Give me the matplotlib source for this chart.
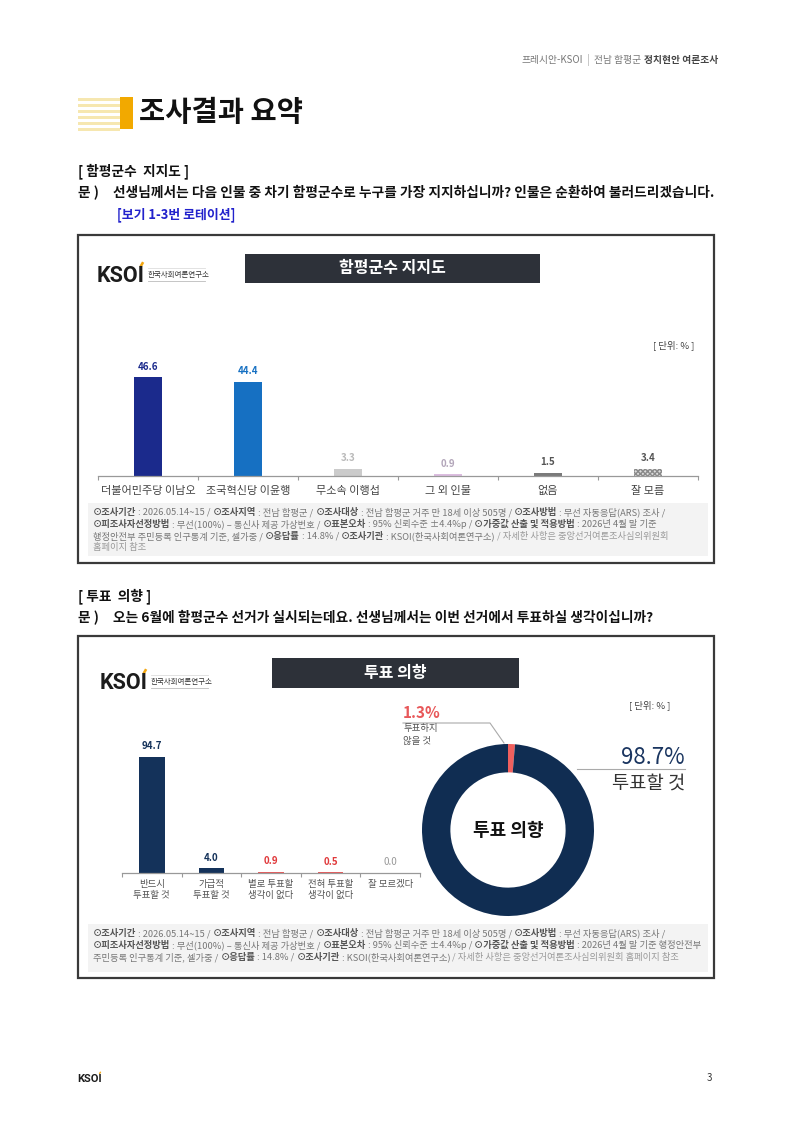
import matplotlib.pyplot as plt
import matplotlib.patches as mp

plt.rcParams['font.family'] = ['Noto Sans CJK KR', 'DejaVu Sans']

# data
sup_cats = ['더불어민주당 이남오', '조국혁신당 이윤행', '무소속 이행섭', '그 외 인물', '없음', '잘 모름']
sup_vals = [46.6, 44.4, 3.3, 0.9, 1.5, 3.4]
sup_colors = ['#1b2a8c', '#1670c2', '#cbcbcb', '#dcbde0', '#7a7a7a', '#dddddd']
sup_lab_colors = ['#1b2a8c', '#1670c2', '#b9b9b9', '#b3a6ba', '#555555', '#555555']

vote_cats = ['반드시\n투표할 것', '가급적\n투표할 것', '별로 투표할\n생각이 없다', '전혀 투표할\n생각이 없다', '잘 모르겠다']
vote_vals = [94.7, 4.0, 0.9, 0.5, 0.0]
vote_colors = ['#14325a', '#14325a', '#e8585a', '#e8585a', '#14325a']
vote_lab_colors = ['#14325a', '#14325a', '#e0393b', '#e0393b', '#999999']

donut_labels = ['투표하지\n않을 것', '투표할 것']
donut_vals = [1.3, 98.7]
donut_colors = ['#f0605e', '#102d52']

W, H = 793, 1121
fig = plt.figure(figsize=(W / 100, H / 100), dpi=100)
bg = fig.add_axes([0, 0, 1, 1])
bg.set_xlim(0, W)
bg.set_ylim(H, 0)
bg.axis('off')
rend = fig.canvas.get_renderer()


def px_axes(x0, y0, x1, y1):
    return fig.add_axes([x0 / W, 1 - y1 / H, (x1 - x0) / W, (y1 - y0) / H])


def seg_text(x, y, parts, size):
    # parts: (text, weight, color), drawn one after another
    ts = []
    for s, w, c in parts:
        t = bg.text(x, y, s, fontsize=size, fontweight=w, color=c, va='center', ha='left')
        x += t.get_window_extent(rend).width
        ts.append(t)
    return x, ts


def logo(x, y, size, sub=True):
    t = bg.text(x, y, 'KSOI', fontsize=size, fontweight='bold', color='#1c1c1c',
                va='baseline', family='Roboto')
    w = t.get_window_extent(rend).width
    cap = size * 100 / 72 * 0.71
    bg.plot([x + w - size * 0.28, x + w - size * 0.12], [y - cap * 1.02, y - cap * 1.3],
            color='#f3a712', lw=size * 0.12, solid_capstyle='butt')
    if sub:
        sx = x + w + 3
        bg.text(sx, y - cap * 0.48, '한국사회여론연구소', fontsize=size * 0.35,
                color='#333333', va='center', ha='left')
        bg.plot([sx, sx + size * 3.7], [y - cap * 0.05, y - cap * 0.05], color='#bbbbbb', lw=0.6)
        bg.plot([sx, sx + size * 3.7], [y - cap * 0.9, y - cap * 0.9], color='#dddddd', lw=0.6)


# header (right aligned at x=718)
hdr_parts = [('프레시안-KSOI', 'normal', '#777777'), ('  |  ', 'normal', '#aaaaaa'),
             ('전남 함평군 ', 'normal', '#777777'), ('정치현안 여론조사', 'bold', '#444444')]
end, hts = seg_text(0, 60, hdr_parts, 7)
for t in hts:
    t.set_x(t.get_position()[0] + 718 - end)

# title
for i in range(6):
    bg.add_patch(mp.Rectangle((78, 98 + i * 6), 42, 3.2, color='#f6e7b0', lw=0))
bg.add_patch(mp.Rectangle((120, 97), 13, 32, color='#f2a900', lw=0))
bg.text(139, 113, '조사결과 요약', fontsize=20.5, fontweight='bold', color='#111111', va='center')

QS = 9.85
# section 1 texts
bg.text(78, 171, '[ 함평군수  지지도 ]', fontsize=QS, fontweight='bold', color='#111111', va='center')
bg.text(78, 193, '문 )', fontsize=QS, fontweight='bold', color='#111111', va='center')
bg.text(113, 193, '선생님께서는 다음 인물 중 차기 함평군수로 누구를 가장 지지하십니까? 인물은 순환하여 불러드리겠습니다.',
        fontsize=QS, fontweight='bold', color='#111111', va='center')
bg.text(117, 215, '[보기 1-3번 로테이션]', fontsize=9.3, fontweight='bold', color='#2222cc', va='center')


def chart_frame(y0, y1, title, tx0, tx1, ty0, ty1, lx, ly):
    bg.add_patch(mp.Rectangle((78, y0), 636, y1 - y0, fill=False, ec='#3a3a3a', lw=1.6))
    bg.add_patch(mp.Rectangle((tx0, ty0), tx1 - tx0, ty1 - ty0, color='#2d3139', lw=0))
    bg.text((tx0 + tx1) / 2, (ty0 + ty1) / 2, title, fontsize=11.5, fontweight='bold',
            color='white', ha='center', va='center')
    logo(lx, ly, 15.5)


def footnote(y0, y1, lines):
    bg.add_patch(mp.Rectangle((88, y0), 620, y1 - y0, color='#f3f3f3', lw=0))
    for k, parts in enumerate(lines):
        seg_text(93, y0 + 9.5 + k * 11.8, parts, 6.7)


B, N = 'bold', 'normal'
c1, c2, c3 = '#555555', '#777777', '#9a9a9a'
line_a = [('⊙조사기간', B, c1), (' : 2026.05.14~15 / ', N, c2), ('⊙조사지역', B, c1), (' : 전남 함평군 / ', N, c2),
          ('⊙조사대상', B, c1), (' : 전남 함평군 거주 만 18세 이상 505명 / ', N, c2), ('⊙조사방법', B, c1),
          (' : 무선 자동응답(ARS) 조사 /', N, c2)]

# chart 1
chart_frame(235, 563, '함평군수 지지도', 245, 540, 254, 283, 97, 282)
bg.text(694, 345, '[ 단위: % ]', fontsize=6.8, color='#444444', ha='right', va='center')
ax1 = px_axes(98, 330, 698, 476)
x1 = list(range(len(sup_cats)))
bars = ax1.bar(x1, sup_vals, width=0.28, color=sup_colors, lw=0)
bars[5].set_hatch('xxxxxxx')
bars[5].set_edgecolor('#8a8a8a')
for i, v in enumerate(sup_vals):
    ax1.annotate(f'{v:.1f}', (i, v), xytext=(0, 4), textcoords='offset points', ha='center',
                 va='bottom', fontsize=7, fontweight='bold', color=sup_lab_colors[i])
ax1.set_xlim(-0.5, len(sup_cats) - 0.5)
ax1.set_ylim(0, 68.9)
for s in ['top', 'right', 'left']:
    ax1.spines[s].set_visible(False)
ax1.spines['bottom'].set_color('#999999')
ax1.spines['bottom'].set_linewidth(0.9)
ax1.set_yticks([])
ax1.set_xticks(x1, sup_cats, fontsize=8, color='#444444')
ax1.tick_params(axis='x', length=0, pad=7, colors='#444444')
ax1.set_xticks([i - 0.5 for i in range(len(sup_cats) + 1)], minor=True)
ax1.tick_params(axis='x', which='minor', length=3, color='#999999', width=0.8)
ax1.patch.set_alpha(0)

footnote(503, 556, [
    line_a,
    [('⊙피조사자선정방법', B, c1), (' : 무선(100%) – 통신사 제공 가상번호 / ', N, c2), ('⊙표본오차', B, c1),
     (' : 95% 신뢰수준 ±4.4%p / ', N, c2), ('⊙가중값 산출 및 적용방법', B, c1), (' : 2026년 4월 말 기준', N, c2)],
    [('행정안전부 주민등록 인구통계 기준, 셀가중 / ', N, c2), ('⊙응답률', B, c1), (' : 14.8% / ', N, c2),
     ('⊙조사기관', B, c1), (' : KSOI(한국사회여론연구소) ', N, c2), ('/ 자세한 사항은 중앙선거여론조사심의위원회', N, c3)],
    [('홈페이지 참조', N, c3)],
])

# section 2 texts
bg.text(78, 596, '[ 투표  의향 ]', fontsize=QS, fontweight='bold', color='#111111', va='center')
bg.text(78, 618, '문 )', fontsize=QS, fontweight='bold', color='#111111', va='center')
bg.text(113, 618, '오는 6월에 함평군수 선거가 실시되는데요. 선생님께서는 이번 선거에서 투표하실 생각이십니까?',
        fontsize=QS, fontweight='bold', color='#111111', va='center')

# chart 2
chart_frame(636, 978, '투표 의향', 272, 519, 658, 688, 100, 689)
bg.text(670, 705, '[ 단위: % ]', fontsize=6.8, color='#444444', ha='right', va='center')
ax2 = px_axes(122, 740, 420, 873)
x2 = list(range(len(vote_cats)))
ax2.bar(x2, vote_vals, width=0.43, color=vote_colors, lw=0)
for i, v in enumerate(vote_vals):
    ax2.annotate(f'{v:.1f}', (i, v), xytext=(0, 4), textcoords='offset points', ha='center',
                 va='bottom', fontsize=7, fontweight='bold' if i < 4 else 'normal',
                 color=vote_lab_colors[i])
ax2.set_xlim(-0.5, len(vote_cats) - 0.5)
ax2.set_ylim(0, 108.6)
for s in ['top', 'right', 'left']:
    ax2.spines[s].set_visible(False)
ax2.spines['bottom'].set_color('#999999')
ax2.spines['bottom'].set_linewidth(0.9)
ax2.set_yticks([])
ax2.set_xticks(x2, vote_cats, fontsize=6.8, color='#555555', linespacing=1.3)
ax2.tick_params(axis='x', length=0, pad=5)
ax2.set_xticks([i - 0.5 for i in range(len(vote_cats) + 1)], minor=True)
ax2.tick_params(axis='x', which='minor', length=3, color='#999999', width=0.8)
ax2.patch.set_alpha(0)

# donut
ax3 = px_axes(422, 744, 594, 916)
ax3.pie(donut_vals, colors=donut_colors, startangle=90, counterclock=False,
        wedgeprops=dict(width=0.33, lw=0))
ax3.set_xlim(-1, 1)
ax3.set_ylim(-1, 1)
ax3.text(0, 0, '투표 의향', fontsize=13, fontweight='bold', color='#111111', ha='center', va='center')

bg.text(403, 713, f'{donut_vals[0]}%', fontsize=11, fontweight='bold', color='#e8585a', va='center')
bg.text(403, 735, donut_labels[0], fontsize=6.8, color='#555555', va='center', linespacing=1.6)
bg.plot([403, 490, 504], [723, 723, 743], color='#aaaaaa', lw=0.8)
bg.text(685, 757, f'{donut_vals[1]}%', fontsize=16, fontweight='medium', color='#1a3560', ha='right', va='center')
bg.text(685, 783, donut_labels[1], fontsize=13.5, color='#333333', ha='right', va='center')
bg.plot([577, 685], [769, 769], color='#aaaaaa', lw=0.8)

footnote(924, 972, [
    line_a,
    [('⊙피조사자선정방법', B, c1), (' : 무선(100%) – 통신사 제공 가상번호 / ', N, c2), ('⊙표본오차', B, c1),
     (' : 95% 신뢰수준 ±4.4%p / ', N, c2), ('⊙가중값 산출 및 적용방법', B, c1),
     (' : 2026년 4월 말 기준 행정안전부', N, c2)],
    [('주민등록 인구통계 기준, 셀가중 / ', N, c2), ('⊙응답률', B, c1), (' : 14.8% / ', N, c2),
     ('⊙조사기관', B, c1), (' : KSOI(한국사회여론연구소) ', N, c2),
     ('/ 자세한 사항은 중앙선거여론조사심의위원회 홈페이지 참조', N, c3)],
])

# page footer
logo(77, 1082, 8, sub=False)
bg.text(712, 1078, '3', fontsize=7, color='#333333', ha='right', va='center')

fig.savefig('out.png', dpi=100)
